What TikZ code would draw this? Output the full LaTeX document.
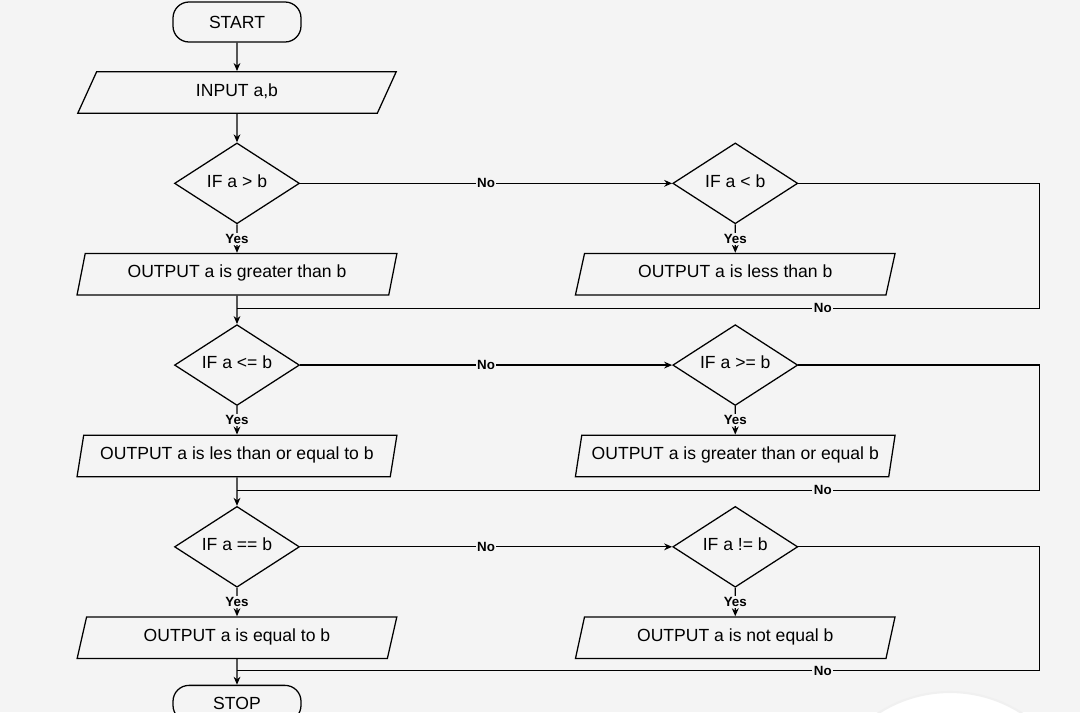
\documentclass[tikz,border=0pt]{standalone}
\usepackage{fontspec}
\setmainfont{Liberation Sans}
\usetikzlibrary{calc,positioning,shapes,arrows.meta}
\definecolor{bgcol}{RGB}{244,244,244}
\tikzstyle{startstop} = [rectangle, rounded corners=0.4cm, minimum width=3.2cm,
                         minimum height=1cm, text centered, draw=black]
\tikzstyle{io}        = [trapezium, trapezium left angle=75, trapezium right angle=105,
                         trapezium stretches=true, minimum width=8cm, minimum height=1.04cm,
                         text height=0.75em, text depth=0.22em, text centered, draw=black]
\tikzstyle{decision}  = [diamond, shape aspect=2, minimum width=3.125cm, minimum height=2.02cm,
                         text height=0.75em, text depth=0.22em, inner sep=0pt,
                         text centered, draw=black]
\tikzstyle{arrow}     = [->]
\tikzstyle{lbl}       = [fill=bgcol, inner sep=1pt, font=\bfseries\fontsize{9.5}{10}\selectfont]

\begin{document}
\begin{tikzpicture}[>={Stealth[length=2mm,width=1.7mm]}, node distance=0.71cm,
                    font=\fontsize{12.5}{15}\selectfont, line width=0.9pt]
	\useasboundingbox (0,0) rectangle (27,-17.8);
	\fill[bgcol] (0,0) rectangle (27,-17.8);
	\clip (0,0) rectangle (27,-17.8);
	\fill[white, draw=gray!12, line width=1.5pt] (23.75,-20.6) circle (3.3cm);
	% left column
	\node[startstop] (start) at (5.925,-0.55) {START};
	\node[io, below=of start] (in) {INPUT a,b};
	\node[decision, below=of in] (gt) {IF a > b};
	\node[io, below=of gt] (outgt) {OUTPUT a is greater than b};
	\node[decision, below=of outgt] (le) {IF a <= b};
	\node[io, below=of le] (outle) {OUTPUT a is les than or equal to b};
	\node[decision, below=of outle] (eq) {IF a == b};
	\node[io, below=of eq] (outeq) {OUTPUT a is equal to b};
	\node[startstop, below=0.64cm of outeq, minimum height=0.9cm] (stop) {STOP};
	% right column
	\node[decision, right=9.3cm of gt] (lt) {IF a < b};
	\node[io, below=of lt] (outlt) {OUTPUT a is less than b};
	\node[decision, right=9.3cm of le] (ge) {IF a >= b};
	\node[io, below=of ge] (outge) {OUTPUT a is greater than or equal b};
	\node[decision, right=9.3cm of eq] (ne) {IF a != b};
	\node[io, below=of ne] (outne) {OUTPUT a is not equal b};
	% joins
	\coordinate (j1) at ($(outgt.south)!0.45!(le.north)$);
	\coordinate (j2) at ($(outle.south)!0.45!(eq.north)$);
	\coordinate (j3) at ($(outeq.south)!0.45!(stop.north)$);
	% main line
	\draw[arrow] (start) -- (in);
	\draw[arrow] (in) -- (gt);
	\draw[arrow] (gt) -- node[lbl]{Yes} (outgt);
	\draw[arrow] (outgt) -- (le);
	\draw[arrow] (le) -- node[lbl]{Yes} (outle);
	\draw[arrow] (outle) -- (eq);
	\draw[arrow] (eq) -- node[lbl]{Yes} (outeq);
	\draw[arrow] (outeq) -- (stop);
	% no branches
	\draw[arrow] (gt) -- node[lbl]{No} (lt);
	\draw[arrow] (lt) -- node[lbl]{Yes} (outlt);
	\draw (lt.east) -- ++(6.025,0) |- (j1) node[lbl, pos=0.635]{No};
	\draw[arrow] (le) -- node[lbl]{No} (ge);
	\draw[arrow] (ge) -- node[lbl]{Yes} (outge);
	\draw (ge.east) -- ++(6.025,0) |- (j2) node[lbl, pos=0.635]{No};
	\draw[arrow] (eq) -- node[lbl]{No} (ne);
	\draw[arrow] (ne) -- node[lbl]{Yes} (outne);
	\draw (ne.east) -- ++(6.025,0) |- (j3) node[lbl, pos=0.635]{No};
\end{tikzpicture}
\end{document}
